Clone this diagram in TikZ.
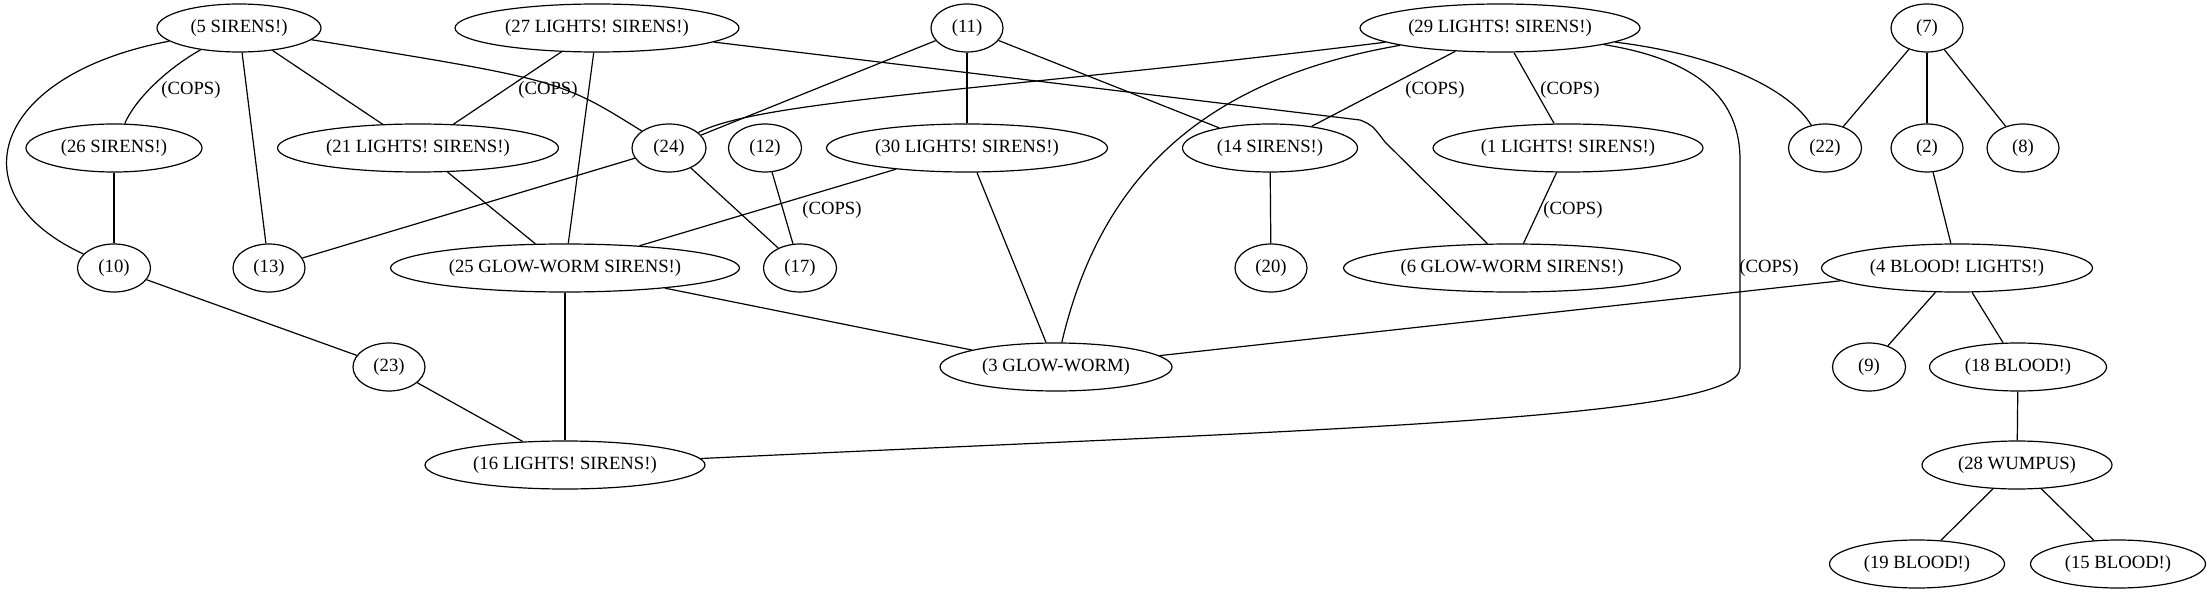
\documentclass[tikz,border=0pt]{standalone}
\usepackage{fontspec}
\setmainfont{Liberation Serif}
\usetikzlibrary{shapes.geometric}
\tikzset{
  gv/.style={draw, ellipse, inner sep=0pt, minimum height=36pt, line width=0.9pt, font=\fontsize{14}{16}\selectfont},
  edge/.style={line width=0.9pt},
  lbl/.style={inner sep=0pt, font=\fontsize{14}{16}\selectfont}
}
\newcommand\gvnode[5]{\node[gv, minimum width=#4*0.75pt] (#1) at (#2,#3) {\makebox[0pt]{#5}};}
\begin{document}
\begin{tikzpicture}[x=0.75pt,y=-0.75pt]
\useasboundingbox (0,0) rectangle (2211,595);
% nodes
\gvnode{n5}{239}{28}{164}{(5 SIRENS!)}
\gvnode{n27}{597}{28}{284}{(27 LIGHTS! SIRENS!)}
\gvnode{n11}{967}{28}{72}{(11)}
\gvnode{n29}{1500}{28}{280}{(29 LIGHTS! SIRENS!)}
\gvnode{n7}{1927}{28}{72}{(7)}
\gvnode{n26}{114}{148}{176}{(26 SIRENS!)}
\gvnode{n21}{418}{148}{281}{(21 LIGHTS! SIRENS!)}
\gvnode{n24}{669}{148}{74}{(24)}
\gvnode{n12}{765}{148}{73}{(12)}
\gvnode{n30}{967}{148}{281}{(30 LIGHTS! SIRENS!)}
\gvnode{n14}{1270}{148}{175}{(14 SIRENS!)}
\gvnode{n1}{1568}{148}{270}{(1 LIGHTS! SIRENS!)}
\gvnode{n22}{1825}{148}{73}{(22)}
\gvnode{n2}{1927}{148}{72}{(2)}
\gvnode{n8}{2023}{148}{72}{(8)}
\gvnode{n10}{114}{268}{73}{(10)}
\gvnode{n13}{269}{268}{72}{(13)}
\gvnode{n25}{565}{268}{349}{(25 GLOW-WORM SIRENS!)}
\gvnode{n17}{800}{268}{73}{(17)}
\gvnode{n20}{1271}{268}{72}{(20)}
\gvnode{n6}{1512}{268}{337}{(6 GLOW-WORM SIRENS!)}
\gvnode{n4}{1957}{268}{271}{(4 BLOOD! LIGHTS!)}
\gvnode{n23}{389}{367}{72}{(23)}
\gvnode{n3}{1056}{367}{232}{(3 GLOW-WORM)}
\gvnode{n9}{1869}{367}{73}{(9)}
\gvnode{n18}{2018}{367}{177}{(18 BLOOD!)}
\gvnode{n16}{565}{465}{280}{(16 LIGHTS! SIRENS!)}
\gvnode{n28}{2017}{465}{190}{(28 WUMPUS)}
\gvnode{n19}{1917}{564}{175}{(19 BLOOD!)}
\gvnode{n15}{2118}{564}{175}{(15 BLOOD!)}
% labels
\node[lbl] (l1) at (191,90) {(COPS)};
\node[lbl] (l2) at (548,90) {(COPS)};
\node[lbl] (l3) at (832,210) {(COPS)};
\node[lbl] (l4) at (1435,90) {(COPS)};
\node[lbl] (l5) at (1570,90) {(COPS)};
\node[lbl] (l6) at (1573,210) {(COPS)};
\node[lbl] (l7) at (1769,268) {(COPS)};
% curved edges
\draw[edge] (n5) .. controls (-10,75) and (-45,195) .. (n10);
\draw[edge] (n5) .. controls (165,70) and (135,100) .. (n26);
\draw[edge] (n5) .. controls (560,80) .. (n24);
\draw[edge] (n29) .. controls (1000,90) and (760,100) .. (n24);
\draw[edge] (n29) .. controls (1200,80) and (1100,180) .. (n3);
\draw[edge] (n29) .. controls (1700,60) and (1740,100) .. (1740,160) -- (1740,368) .. controls (1740,420) and (1300,430) .. (n16);
\draw[edge] (n29) .. controls (1720,55) and (1790,90) .. (n22);
\coordinate (k1) at (1360,120);
\coordinate (k2) at (1385,142);
\draw[edge] (n27) -- (k1) .. controls (1372,125) .. (k2) -- (n6);
% straight edges
\draw[edge] (n5) -- (n13);
\draw[edge] (n5) -- (n21);
\draw[edge] (n27) -- (n21);
\draw[edge] (n27) -- (n25);
\draw[edge] (n11) -- (n24);
\draw[edge] (n11) -- (n30);
\draw[edge] (n11) -- (n14);
\draw[edge] (n29) -- (n14);
\draw[edge] (n29) -- (n1);
\draw[edge] (n7) -- (n22);
\draw[edge] (n7) -- (n2);
\draw[edge] (n7) -- (n8);
\draw[edge] (n26) -- (n10);
\draw[edge] (n24) -- (n13);
\draw[edge] (n24) -- (n17);
\draw[edge] (n12) -- (n17);
\draw[edge] (n21) -- (n25);
\draw[edge] (n30) -- (n25);
\draw[edge] (n30) -- (n3);
\draw[edge] (n14) -- (n20);
\draw[edge] (n1) -- (n6);
\draw[edge] (n2) -- (n4);
\draw[edge] (n10) -- (n23);
\draw[edge] (n25) -- (n3);
\draw[edge] (n25) -- (n16);
\draw[edge] (n4) -- (n3);
\draw[edge] (n4) -- (n9);
\draw[edge] (n4) -- (n18);
\draw[edge] (n23) -- (n16);
\draw[edge] (n18) -- (n28);
\draw[edge] (n28) -- (n19);
\draw[edge] (n28) -- (n15);
\end{tikzpicture}
\end{document}
